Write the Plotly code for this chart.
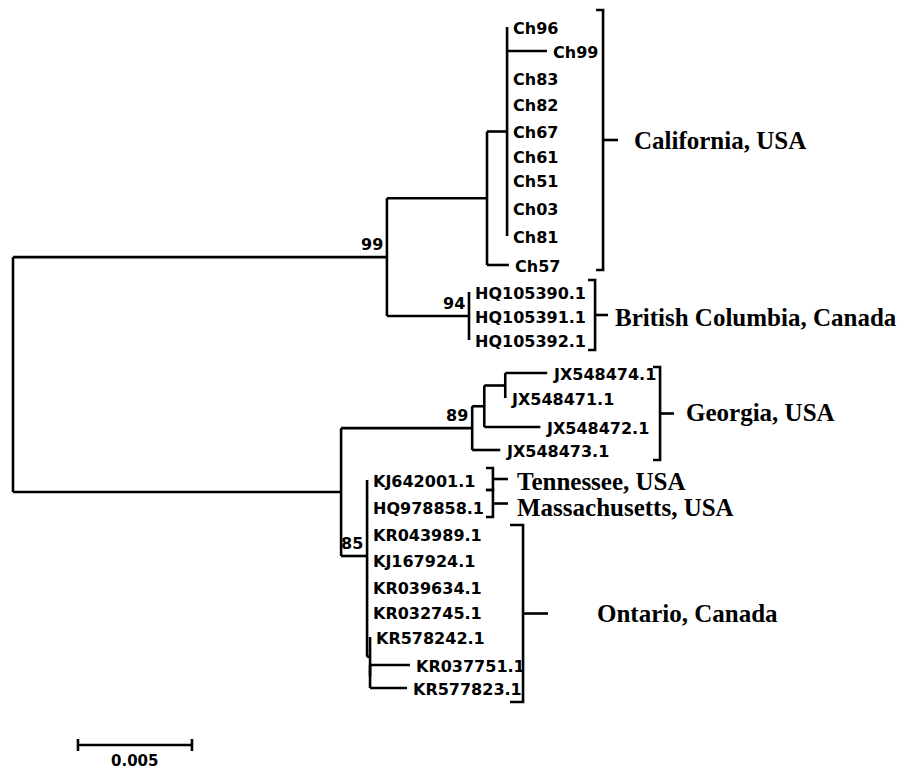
import plotly.graph_objects as go

# ---------------- data ----------------
# internal nodes (parents listed before children); branch lengths in substitutions/site
node_names = ["root", "n99", "nCal", "nD", "n94", "nG", "n89", "nA", "nB", "n85", "nF", "nE"]
node_parent = [None, "root", "n99", "nCal", "n99", "root", "nG", "n89", "nA", "nG", "n85", "nF"]
node_length = [0.0, 0.01640, 0.00439, 0.00088, 0.00360, 0.01439, 0.00575, 0.00053, 0.00092,
               0.00114, 0.00013, 0.0]
node_support = [None, 99, None, None, 94, None, 89, None, None, 85, None, None]
node_row_override = {"n85": 556}

# tips
tip_names = ["Ch96", "Ch99", "Ch83", "Ch82", "Ch67", "Ch61", "Ch51", "Ch03", "Ch81", "Ch57",
             "HQ105390.1", "HQ105391.1", "HQ105392.1",
             "JX548474.1", "JX548471.1", "JX548472.1", "JX548473.1",
             "KJ642001.1", "HQ978858.1", "KR043989.1", "KJ167924.1", "KR039634.1",
             "KR032745.1", "KR578242.1", "KR037751.1", "KR577823.1"]
tip_parent = ["nD", "nD", "nD", "nD", "nD", "nD", "nD", "nD", "nD", "nCal",
              "n94", "n94", "n94",
              "nB", "nB", "nA", "n89",
              "n85", "n85", "n85", "n85", "n85",
              "n85", "nF", "nE", "nE"]
tip_length = [0.0, 0.00175, 0.0, 0.0, 0.0, 0.0, 0.0, 0.0, 0.0, 0.00096,
              0.0, 0.0, 0.0,
              0.00184, 0.0, 0.00246, 0.00123,
              0.0, 0.0, 0.0, 0.0, 0.0,
              0.0, 0.0, 0.00175, 0.00162]
tip_row = [27, 51, 78, 104, 131, 156, 180, 208, 236, 265,
           292, 316, 340,
           373, 398, 427, 450,
           480, 507, 534, 560, 587,
           612, 637, 665, 688]

# geographic groups (bracket span in rows, bracket position in substitutions/site)
group_names = ["California, USA", "British Columbia, Canada", "Georgia, USA",
               "Tennessee, USA", "Massachusetts, USA", "Ontario, Canada"]
group_top = [10, 280, 367, 468, 490, 525]
group_bottom = [270, 350, 460, 490, 517, 702]
group_x = [0.02588, 0.02553, 0.02838, 0.02105, 0.02105, 0.02237]
group_tick_px = [15, 13, 14, 15, 15, 25]
group_gap_px = [14, 5, 10, 7, 7, 47]
group_serif_px = [7, 7, 7, 7, 7, 13]
group_label_dy = [0, 2, -1, 2, 4, 0]

scale_value = 0.005
scale_start = 0.00285
scale_row = 745

# ---------------- layout constants ----------------
W, H = 907, 773
PX = 22800.0          # pixels per substitution/site
X0_PX = 13            # root pixel position
LINE_W = 2.6
TIP_FONT = dict(family="DejaVu Sans", size=16, color="black", weight="bold")
GROUP_FONT = dict(family="Liberation Serif", size=25, color="black", weight="bold")

# ---------------- compute tree geometry ----------------
nx = {}
for n, p, l in zip(node_names, node_parent, node_length):
    nx[n] = 0.0 if p is None else nx[p] + l

tx = [nx[p] + l for p, l in zip(tip_parent, tip_length)]

children_rows = {n: [] for n in node_names}
for p, r in zip(tip_parent, tip_row):
    children_rows[p].append(r)

ny = {}
for n, p in reversed(list(zip(node_names, node_parent))):
    rows = children_rows[n]
    ny[n] = node_row_override.get(n, (min(rows) + max(rows)) / 2.0)
    if p is not None:
        children_rows[p].append(ny[n])

xs, ys = [], []
# vertical lines at each internal node
for n in node_names:
    rows = children_rows[n]
    xs += [nx[n], nx[n], None]
    ys += [min(rows), max(rows), None]
# horizontal branches to internal nodes
for n, p in zip(node_names, node_parent):
    if p is not None:
        xs += [nx[p], nx[n], None]
        ys += [ny[n], ny[n], None]
# horizontal branches to tips
for p, x, r in zip(tip_parent, tx, tip_row):
    if x > nx[p]:
        xs += [nx[p], x, None]
        ys += [r, r, None]

fig = go.Figure()
fig.add_trace(go.Scatter(x=xs, y=ys, mode="lines",
                         line=dict(color="black", width=LINE_W),
                         hoverinfo="skip", showlegend=False))

annotations = []
for name, x, r in zip(tip_names, tx, tip_row):
    annotations.append(dict(x=x, y=r + 1, text=name, showarrow=False, xanchor="left",
                            yanchor="middle", xshift=4, font=TIP_FONT))

for n, s in zip(node_names, node_support):
    if s is not None:
        annotations.append(dict(x=nx[n], y=ny[n], text=str(s), showarrow=False,
                                xanchor="right", yanchor="bottom", xshift=-2, yshift=1,
                                font=TIP_FONT))

# brackets
bx, by = [], []
for name, top, bot, gx, tick, gap, serif, dy in zip(group_names, group_top, group_bottom, group_x,
                                                  group_tick_px, group_gap_px, group_serif_px,
                                                  group_label_dy):
    s = serif / PX
    bx += [gx - s, gx, gx, gx - s, None]
    by += [top, top, bot, bot, None]
    mid = (top + bot) / 2.0
    bx += [gx, gx + tick / PX, None]
    by += [mid, mid, None]
    annotations.append(dict(x=gx + (tick + gap) / PX, y=mid + dy, text=name,
                            showarrow=False, xanchor="left", yanchor="middle", font=GROUP_FONT))

fig.add_trace(go.Scatter(x=bx, y=by, mode="lines",
                         line=dict(color="black", width=LINE_W),
                         hoverinfo="skip", showlegend=False))

# scale bar
cap = 6
sx = [scale_start, scale_start + scale_value, None,
      scale_start, scale_start, None,
      scale_start + scale_value, scale_start + scale_value]
sy = [scale_row, scale_row, None,
      scale_row - cap, scale_row + cap, None,
      scale_row - cap, scale_row + cap]
fig.add_trace(go.Scatter(x=sx, y=sy, mode="lines",
                         line=dict(color="black", width=LINE_W),
                         hoverinfo="skip", showlegend=False))
annotations.append(dict(x=scale_start + scale_value / 2, y=scale_row + 16, text=str(scale_value),
                        showarrow=False, xanchor="center", yanchor="middle",
                        font=dict(family="DejaVu Sans", size=15, color="black", weight="bold")))

fig.update_layout(
    width=W, height=H,
    margin=dict(l=0, r=0, t=0, b=0),
    paper_bgcolor="white", plot_bgcolor="white",
    showlegend=False,
    xaxis=dict(visible=False, range=[-X0_PX / PX, (W - X0_PX) / PX], fixedrange=True),
    yaxis=dict(visible=False, range=[H, 0], fixedrange=True),
    annotations=annotations,
)

fig.write_html("out.html", config={"displayModeBar": False},
               post_script="document.body.style.margin='0';document.body.style.overflow='hidden';")
